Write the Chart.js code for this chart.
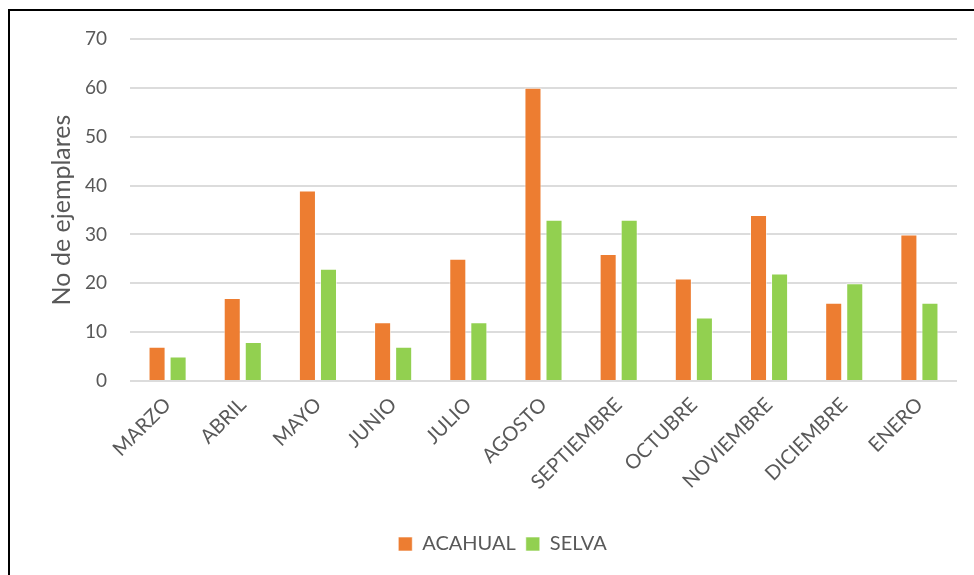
<!DOCTYPE html>
<html>
<head>
<meta charset="utf-8">
<script src="https://cdn.jsdelivr.net/npm/chart.js@4/dist/chart.umd.min.js"></script>
<style>
  html, body { margin: 0; padding: 0; background: #fff; }
  #wrap { position: relative; width: 974px; height: 575px; overflow: hidden; }
  #frame { position: absolute; left: 8px; top: 9px; width: 980px; height: 580px;
           border-top: 2px solid #000; border-left: 2px solid #000; pointer-events: none; }
  canvas { position: absolute; left: 0; top: 0; }
</style>
</head>
<body>
<div id="wrap">
  <canvas id="c" width="974" height="575"></canvas>
  <div id="frame"></div>
</div>
<script>
const months = ['MARZO', 'ABRIL', 'MAYO', 'JUNIO', 'JULIO', 'AGOSTO', 'SEPTIEMBRE', 'OCTUBRE', 'NOVIEMBRE', 'DICIEMBRE', 'ENERO'];
const acahual = [7, 17, 39, 12, 25, 60, 26, 21, 34, 16, 30];
const selva = [5, 8, 23, 7, 12, 33, 33, 13, 22, 20, 16];
const yTicks = [0, 10, 20, 30, 40, 50, 60, 70];

const FONT = 'Lato, "Open Sans", sans-serif';
const GREY = '#595959';

// Legend sits centred under the whole frame rather than the plot area
const legendShift = {
  id: 'legendShift',
  afterLayout(chart) {
    const lg = chart.legend;
    if (lg) { lg.left += 24; lg.right += 24; }
  }
};

new Chart(document.getElementById('c'), {
  type: 'bar',
  data: {
    labels: months,
    datasets: [
      { label: 'ACAHUAL', data: acahual, backgroundColor: '#ED7D31',
        borderColor: 'rgba(255,255,255,0.6)', borderWidth: 1 },
      { label: 'SELVA', data: selva, backgroundColor: '#92D050',
        borderColor: 'rgba(255,255,255,0.6)', borderWidth: 1 }
    ]
  },
  plugins: [legendShift],
  options: {
    responsive: false,
    animation: false,
    barPercentage: 0.81,
    categoryPercentage: 0.56,
    layout: { padding: { left: 0, right: 17, top: 39, bottom: 11 } },
    plugins: {
      tooltip: { enabled: false },
      legend: {
        position: 'bottom',
        labels: {
          color: GREY,
          font: { family: FONT, size: 20 },
          boxWidth: 14, boxHeight: 14,
          padding: 10
        }
      }
    },
    scales: {
      x: {
        grid: { display: false },
        border: { display: false },
        ticks: {
          color: GREY,
          font: { family: FONT, size: 20 },
          minRotation: 45, maxRotation: 45,
          padding: 4
        },
        afterFit: (s) => { s.height = 143; }
      },
      y: {
        min: 0, max: 70,
        afterBuildTicks: (s) => { s.ticks = yTicks.map(v => ({ value: v })); },
        grid: { color: '#dcdcdc', lineWidth: 2, drawTicks: false },
        border: { display: false },
        ticks: {
          color: GREY,
          font: { family: FONT, size: 19 },
          padding: 23
        },
        title: {
          display: true,
          text: 'No de ejemplares',
          color: GREY,
          font: { family: FONT, size: 25 },
          padding: { top: 47, bottom: 0 }
        },
        afterFit: (s) => { s.width = 130; }
      }
    }
  }
});
</script>
</body>
</html>
